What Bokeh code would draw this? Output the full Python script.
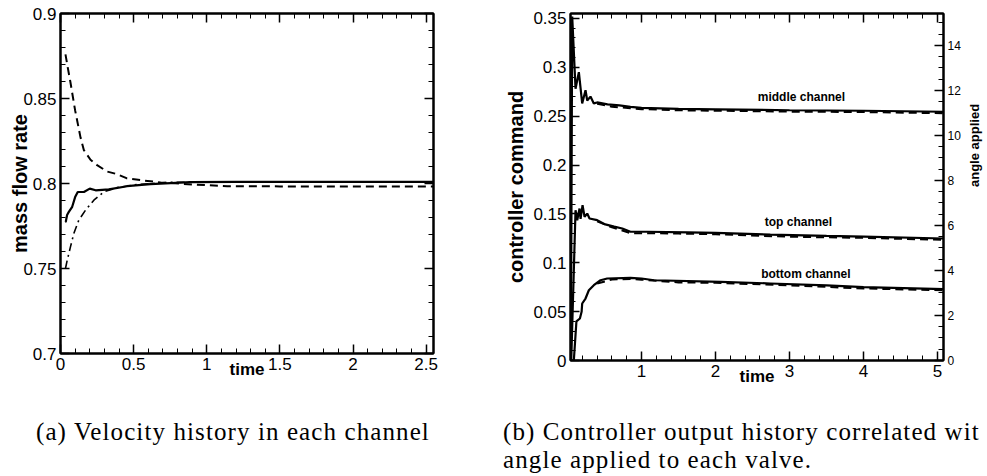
import numpy as np
from bokeh.plotting import figure
from bokeh.models import (Range1d, LinearAxis, Label, Div, FixedTicker,
                          CustomJSTickFormatter)
from bokeh.layouts import row, column
from bokeh.embed import file_html
from bokeh.resources import INLINE

# ---------------- data: panel (a) mass flow rate ----------------
t_a_solid = [0.034, 0.036, 0.045, 0.057, 0.08, 0.10, 0.118, 0.16, 0.20, 0.24, 0.33,
             0.455, 0.615, 0.89, 1.2, 1.57, 2.0, 2.55]
m_a_solid = [0.7774, 0.7774, 0.7815, 0.7833, 0.7863, 0.792, 0.795, 0.795, 0.797, 0.796,
             0.7965, 0.7984, 0.7996, 0.8008, 0.8009, 0.801, 0.801, 0.801]

t_a_dash = [0.034, 0.05, 0.067, 0.10, 0.137, 0.16, 0.205, 0.25, 0.32, 0.387, 0.455,
            0.547, 0.684, 0.91, 1.14, 1.5, 2.0, 2.55]
m_a_dash = [0.876, 0.868, 0.860, 0.843, 0.827, 0.8196, 0.814, 0.8108, 0.807, 0.8055,
            0.803, 0.802, 0.8006, 0.7994, 0.7984, 0.7983, 0.7983, 0.7983]

t_a_dot = [0.034, 0.046, 0.068, 0.091, 0.125, 0.171, 0.228, 0.297, 0.387, 0.524,
           0.729, 1.0, 1.5, 2.0, 2.55]
m_a_dot = [0.750, 0.7549, 0.7627, 0.7706, 0.7784, 0.7843, 0.7902, 0.7951, 0.7976,
           0.7994, 0.8006, 0.801, 0.801, 0.801, 0.801]

a_xticks = [0, 0.5, 1, 1.5, 2, 2.5]
a_yticks = [0.7, 0.75, 0.8, 0.85, 0.9]

# ---------------- data: panel (b) controller command ----------------
t_mid = [0.045, 0.063, 0.108, 0.153, 0.198, 0.243, 0.266, 0.31, 0.355, 0.4, 0.54,
         0.7, 0.85, 1.0, 1.5, 2.0, 3.0, 4.0, 5.08]
c_mid = [0.0, 0.352, 0.278, 0.295, 0.263, 0.2765, 0.266, 0.27, 0.263, 0.264, 0.262,
         0.261, 0.2595, 0.2585, 0.2575, 0.257, 0.256, 0.2555, 0.2545]

t_top = [0.05, 0.108, 0.131, 0.162, 0.176, 0.203, 0.23, 0.266, 0.297, 0.4, 0.51,
         0.63, 0.74, 0.85, 1.08, 1.62, 2.0, 2.74, 3.5, 4.0, 5.08]
c_top = [0.0, 0.1538, 0.1435, 0.1555, 0.145, 0.159, 0.147, 0.1503, 0.1453, 0.1436,
         0.1392, 0.1369, 0.135, 0.1317, 0.1317, 0.131, 0.1305, 0.1288, 0.1275, 0.1268,
         0.1248]

t_bot = [0.05, 0.085, 0.12, 0.167, 0.19, 0.198, 0.243, 0.288, 0.355, 0.446, 0.536,
         0.85, 1.0, 1.17, 2.07, 2.74, 3.5, 4.0, 5.08]
c_bot = [0.0, 0.0, 0.040, 0.043, 0.0498, 0.0583, 0.0634, 0.0719, 0.077, 0.0821,
         0.0839, 0.0846, 0.0839, 0.0821, 0.0805, 0.0788, 0.0768, 0.075, 0.073]

# valve angle (right axis, dashed)
t_ang = [0.4, 0.6, 0.85, 1.0, 1.5, 2.0, 3.0, 4.0, 5.08]
ang_mid = [11.41, 11.28, 11.21, 11.17, 11.12, 11.10, 11.06, 11.04, 10.99]
ang_top = [6.18, 5.92, 5.66, 5.66, 5.64, 5.61, 5.50, 5.45, 5.36]
ang_bot = [3.42, 3.60, 3.62, 3.59, 3.47, 3.45, 3.34, 3.20, 3.12]

b_xticks = [1, 2, 3, 4, 5]
b_yticks = [0, 0.05, 0.1, 0.15, 0.2, 0.25, 0.3, 0.35]
b_angticks = [0, 2, 4, 6, 8, 10, 12, 14]

channel_labels = ["middle channel", "top channel", "bottom channel"]
channel_label_x = [3.16, 3.12, 3.22]
channel_label_y = [0.270, 0.1422, 0.088]

caption_a = "(a) Velocity history in each channel"
caption_b1 = "(b) Controller output history correlated wit"
caption_b2 = "angle applied to each valve."

FONT = "Liberation Sans"
fmt = CustomJSTickFormatter(code="return String(parseFloat(tick.toFixed(4)));")
blank = CustomJSTickFormatter(code="return '';")


def style_axis(ax, labels=True, size="17px", label=None, standoff=0, lsize="20px"):
    ax.axis_line_width = 2
    ax.axis_line_color = "black"
    ax.major_tick_in = 9
    ax.major_tick_out = 0
    ax.minor_tick_in = 5
    ax.minor_tick_out = 0
    ax.major_tick_line_width = 1.5
    ax.minor_tick_line_width = 1
    ax.major_tick_line_color = "black"
    ax.minor_tick_line_color = "black"
    if label:
        ax.axis_label = label
        ax.axis_label_text_font = FONT
        ax.axis_label_text_font_style = "bold"
        ax.axis_label_text_font_size = lsize
        ax.axis_label_text_color = "black"
        ax.axis_label_standoff = standoff
    else:
        ax.axis_label = None
    if labels:
        ax.formatter = fmt
        ax.major_label_text_font = FONT
        ax.major_label_text_font_size = size
        ax.major_label_text_color = "black"
        ax.major_label_standoff = 4
    else:
        ax.formatter = blank
        ax.major_label_text_font_size = "0px"
        ax.major_label_standoff = 0


def new_fig(xr, yr, left, right, top, bottom, fw, fh):
    p = figure(x_range=xr, y_range=yr, frame_width=fw, frame_height=fh,
               min_border_left=left, min_border_right=right,
               min_border_top=top, min_border_bottom=bottom,
               output_backend="svg", toolbar_location=None,
               background_fill_color="white", border_fill_color="white")
    p.grid.visible = False
    p.outline_line_color = "black"
    p.outline_line_width = 2
    return p


# ---------------- panel (a) ----------------
p1 = new_fig(Range1d(0, 2.55), Range1d(0.7, 0.9), 60, 47, 13, 32, 373, 340)
xt_a = FixedTicker(ticks=a_xticks, minor_ticks=list(np.round(np.arange(0, 2.56, 0.1), 3)))
yt_a = FixedTicker(ticks=a_yticks, minor_ticks=list(np.round(np.arange(0.7, 0.901, 0.01), 3)))
p1.xaxis.ticker = xt_a
p1.yaxis.ticker = yt_a
style_axis(p1.xaxis[0], label="time", standoff=-13, lsize="17px")
style_axis(p1.yaxis[0], label="mass flow rate", standoff=-11)
top1 = LinearAxis(ticker=xt_a)
style_axis(top1, labels=False)
p1.add_layout(top1, "above")
right1 = LinearAxis(ticker=yt_a)
style_axis(right1, labels=False)
p1.add_layout(right1, "right")

p1.line(t_a_dash, m_a_dash, line_color="black", line_width=2, line_dash="8 5")
p1.line(t_a_dot, m_a_dot, line_color="black", line_width=1.6, line_dash="8 4 2 4")
p1.line(t_a_solid, m_a_solid, line_color="black", line_width=2.2)

# ---------------- panel (b) ----------------
p2 = new_fig(Range1d(0.04, 5.08), Range1d(0, 0.355), 90, 44, 5, 33, 373, 347)
p2.extra_y_ranges = {"angle": Range1d(0, 15.42)}
xt_b = FixedTicker(ticks=b_xticks, minor_ticks=list(np.round(np.arange(0.2, 5.09, 0.2), 3)))
yt_b = FixedTicker(ticks=b_yticks, minor_ticks=list(np.round(np.arange(0, 0.356, 0.01), 3)))
at_b = FixedTicker(ticks=b_angticks, minor_ticks=list(np.round(np.arange(0, 15.5, 0.5), 3)))
p2.xaxis.ticker = xt_b
p2.yaxis.ticker = yt_b
style_axis(p2.xaxis[0], label="time", standoff=-13, lsize="17px")
style_axis(p2.yaxis[0], label="controller command", standoff=3)
top2 = LinearAxis(ticker=xt_b)
style_axis(top2, labels=False)
p2.add_layout(top2, "above")
right2 = LinearAxis(ticker=at_b, y_range_name="angle")
style_axis(right2, size="12px", label="angle applied", standoff=11, lsize="13px")
right2.axis_label_orientation = np.pi / 2
p2.add_layout(right2, "right")

for ang in (ang_mid, ang_top, ang_bot):
    p2.line(t_ang, ang, y_range_name="angle", line_color="black", line_width=2,
            line_dash="8 5")
for c, t in ((c_mid, t_mid), (c_top, t_top), (c_bot, t_bot)):
    p2.line(t, c, line_color="black", line_width=2.2)

for txt, lx, ly in zip(channel_labels, channel_label_x, channel_label_y):
    p2.add_layout(Label(x=lx, y=ly, text=txt, text_align="center", text_baseline="middle",
                        text_font=FONT, text_font_style="bold", text_font_size="12px",
                        text_color="black"))

cap = Div(width=987, height=91, text=f"""
<div style="position:relative;width:987px;height:91px;overflow:hidden;
 font-family:'Liberation Serif',serif;font-size:25px;color:#000;line-height:28px;
 letter-spacing:1.1px;">
<span style="position:absolute;left:31px;top:28px;white-space:nowrap;">{caption_a}</span>
<span style="position:absolute;left:498px;top:28px;white-space:nowrap;">{caption_b1}</span>
<span style="position:absolute;left:498px;top:56px;white-space:nowrap;">{caption_b2}</span>
</div>""")

layout = column(row(p1, p2, spacing=0), cap, spacing=0)
open("out.html", "w").write(file_html(layout, INLINE))
